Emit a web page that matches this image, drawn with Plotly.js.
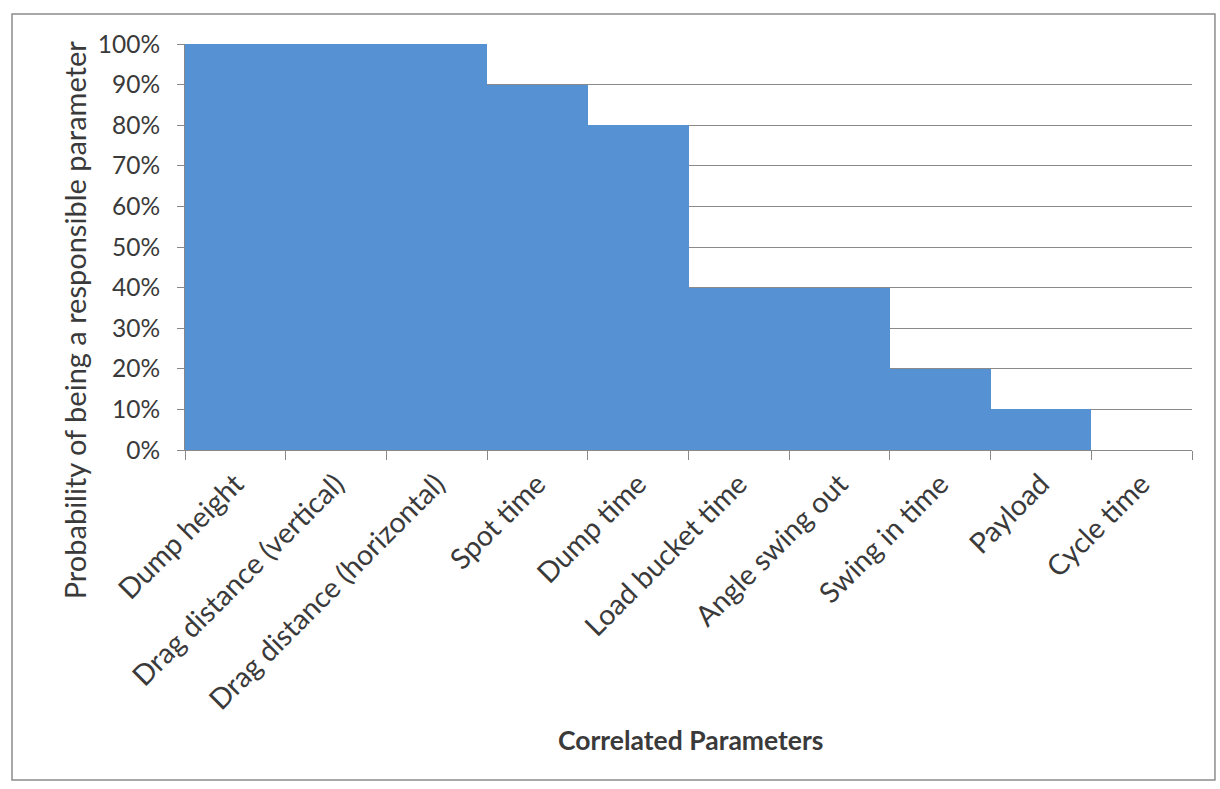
<!DOCTYPE html>
<html>
<head>
<meta charset="utf-8">
<script src="https://cdn.plot.ly/plotly-3.0.1.min.js"></script>
<style>html,body{margin:0;padding:0;background:#fff;}#chart{width:1220px;height:789px;}</style>
</head>
<body>
<div id="chart"></div>
<script>
const categories = ["Dump height","Drag distance (vertical)","Drag distance (horizontal)","Spot time","Dump time","Load bucket time","Angle swing out","Swing in time","Payload","Cycle time"];
const probabilities = [1.0, 1.0, 1.0, 0.9, 0.8, 0.4, 0.4, 0.2, 0.1, 0.0];
const yTickValues = [0,0.1,0.2,0.3,0.4,0.5,0.6,0.7,0.8,0.9,1.0];
const xTitle = "Correlated Parameters";
const yTitle = "Probability of being a responsible parameter";

const FONT = "Lato, 'Open Sans', sans-serif";
const TXT = "#3a3a3a";
const trace = {
  type: "bar",
  x: categories,
  y: probabilities,
  marker: {color: "#5692d3", line: {width: 0}},
  hoverinfo: "x+y"
};
const layout = {
  width: 1220, height: 789,
  margin: {l: 185, r: 28, t: 44, b: 339},
  paper_bgcolor: "#fff", plot_bgcolor: "#fff",
  bargap: 0,
  showlegend: false,
  font: {family: FONT, color: TXT, size: 24},
  xaxis: {
    type: "category",
    tickangle: -45,
    ticks: "outside", ticklen: 9, tickcolor: "#888", tickwidth: 1,
    tickson: "boundaries",
    ticklabelstandoff: 5,
    showline: true, linecolor: "#888", linewidth: 1,
    showgrid: false,
    tickfont: {family: FONT, size: 28.5, color: TXT},
    automargin: false
  },
  yaxis: {
    range: [0, 1],
    tickvals: yTickValues,
    tickformat: ".0%",
    ticks: "outside", ticklen: 7, tickcolor: "#888",
    ticklabelstandoff: 12,
    showline: true, linecolor: "#888", linewidth: 1,
    showgrid: true, gridcolor: "#8a8a8a", gridwidth: 1,
    zeroline: false,
    tickfont: {family: FONT, size: 24.5, color: TXT},
    automargin: false
  },
  annotations: [
    {text: yTitle, xref: "paper", yref: "paper", x: -0.11, y: 0.32,
     xanchor: "center", yanchor: "middle", textangle: -90, showarrow: false,
     font: {family: FONT, size: 29, color: TXT}},
    {text: "<b>" + xTitle + "</b>", xref: "paper", yref: "paper", x: 0.5015, y: -0.714,
     xanchor: "center", yanchor: "middle", showarrow: false,
     font: {family: FONT, size: 26.5, color: TXT}}
  ],
  shapes: [{
    type: "rect", xref: "paper", yref: "paper",
    x0: -0.1718, x1: 1.0228, y0: -0.8128, y1: 1.0739,
    line: {color: "#8c8c8c", width: 1.5}, fillcolor: "rgba(0,0,0,0)", layer: "below"
  }]
};
Plotly.newPlot("chart", [trace], layout, {displayModeBar: false, staticPlot: true});
</script>
</body>
</html>
